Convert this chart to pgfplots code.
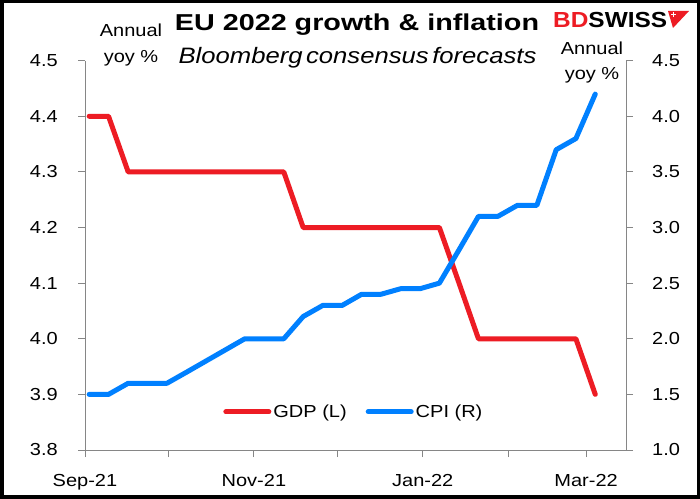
\documentclass[border=0pt]{standalone}
\usepackage{fontspec}
\setmainfont{Liberation Sans}[FakeStretch=1.15]
\newfontfamily\titlefont{Liberation Sans}[FakeStretch=1.25]
\newfontfamily\subfont{Liberation Sans}[FakeStretch=1.15, WordSpace=0.5]
\newfontfamily\logofont{Liberation Sans}[FakeStretch=1.12]
\usepackage{pgfplots}
\pgfplotsset{compat=1.18}
\definecolor{gdpred}{RGB}{237,28,36}
\definecolor{cpiblue}{RGB}{0,128,255}
\definecolor{axgray}{RGB}{134,134,134}
\newcommand{\lbl}{\fontsize{17.4bp}{20bp}\selectfont}

\pgfplotstableread{
x y
1.5 4.4
8.5 4.4
15.6 4.3
22.6 4.3
29.6 4.3
36.7 4.3
43.7 4.3
50.7 4.3
57.7 4.3
64.8 4.3
71.8 4.3
78.8 4.2
85.9 4.2
92.9 4.2
99.9 4.2
106.9 4.2
114.0 4.2
121.0 4.2
128.0 4.2
135.1 4.1
142.1 4.0
149.1 4.0
156.2 4.0
163.2 4.0
170.2 4.0
177.3 4.0
184.3 3.9
}\gdp

\pgfplotstableread{
x y
1.5 1.5
8.5 1.5
15.6 1.6
22.6 1.6
29.6 1.6
36.7 1.7
43.7 1.8
50.7 1.9
57.7 2.0
64.8 2.0
71.8 2.0
78.8 2.2
85.9 2.3
92.9 2.3
99.9 2.4
106.9 2.4
114.0 2.45
121.0 2.45
128.0 2.5
135.1 2.8
142.1 3.1
149.1 3.1
156.2 3.2
163.2 3.2
170.2 3.7
177.3 3.8
184.3 4.2
}\cpi

\pgfplotsset{
  base/.style={
    at={(85bp,49bp)}, anchor=south west, scale only axis,
    width=541bp, height=389.3bp,
    xmin=0, xmax=195.4,
    tick align=outside, major tick length=7bp,
    tick style={axgray, line width=0.9bp},
    axis line style={axgray, line width=0.9bp, -},
    /pgf/number format/assume math mode=true,
    ticklabel style={font=\lbl, text=black, inner sep=0pt},
    yticklabel style={/pgf/number format/fixed, /pgf/number format/fixed zerofill, /pgf/number format/precision=1},
  }
}

\begin{document}
\begin{tikzpicture}
\path[use as bounding box] (0,0) rectangle (700bp,499bp);
\fill[white] (0,0) rectangle (700bp,499bp);

\begin{axis}[base,
  ymin=3.8, ymax=4.5,
  ytick={3.8,3.9,4.0,4.1,4.2,4.3,4.4,4.5},
  axis y line*=left, axis x line*=bottom,
  xtick={0,30,61,91,122,153,181},
  xticklabels={Sep-21,,Nov-21,,Jan-22,,Mar-22},
  yticklabel style={xshift=-20bp},
  xticklabel style={yshift=-17.5bp},
]
\addplot[gdpred, line width=5bp, line join=round, line cap=round] table[x=x,y=y] {\gdp};
\end{axis}

\begin{axis}[base,
  ymin=1, ymax=4.5,
  ytick={1.0,1.5,2.0,2.5,3.0,3.5,4.0,4.5},
  axis y line*=right, axis x line=none,
  yticklabel style={xshift=19bp},
  legend columns=2,
  legend style={at={(rel axis cs:0.497,0.098)}, anchor=center, draw=none, fill=none,
    font=\lbl, inner sep=0pt,
    /tikz/every even column/.append style={column sep=17bp}},
  legend image code/.code={\draw[#1] (0bp,0bp) -- (43bp,0bp);},
]
\addlegendimage{gdpred, line width=5bp, line cap=round}
\addlegendentry{GDP (L)}
\addplot[cpiblue, line width=5bp, line join=round, line cap=round] table[x=x,y=y] {\cpi};
\addlegendentry{CPI (R)}
\end{axis}

% titles
\node[anchor=base, inner sep=0pt] at (357bp,468bp) {\titlefont\bfseries\fontsize{23bp}{26bp}\selectfont EU 2022 growth \& inflation};
\node[anchor=base, inner sep=0pt] at (357.5bp,435bp) {\subfont\itshape\fontsize{22.3bp}{26bp}\selectfont Bloomberg consensus forecasts};
\node[anchor=base, inner sep=0pt] at (131bp,462bp) {\lbl Annual};
\node[anchor=base, inner sep=0pt] at (131bp,436bp) {\lbl yoy \%};
\node[anchor=base, inner sep=0pt] at (592bp,444bp) {\lbl Annual};
\node[anchor=base, inner sep=0pt] at (592bp,419bp) {\lbl yoy \%};
% logo
\node[anchor=base west, inner sep=0pt] at (553bp,471bp) {\logofont\bfseries\fontsize{21.8bp}{24bp}\selectfont\textcolor{gdpred}{BD}SWISS};
\fill[gdpred] (668bp,488bp) -- (689bp,488bp) -- (673bp,471bp) -- cycle;
\draw[white, line width=1bp] (671bp,484.5bp) -- (676bp,484.5bp) (673.5bp,482bp) -- (673.5bp,487bp);

\draw[line width=3.5bp] (1.75bp,1.75bp) rectangle (698.25bp,497.25bp);
\end{tikzpicture}
\end{document}
